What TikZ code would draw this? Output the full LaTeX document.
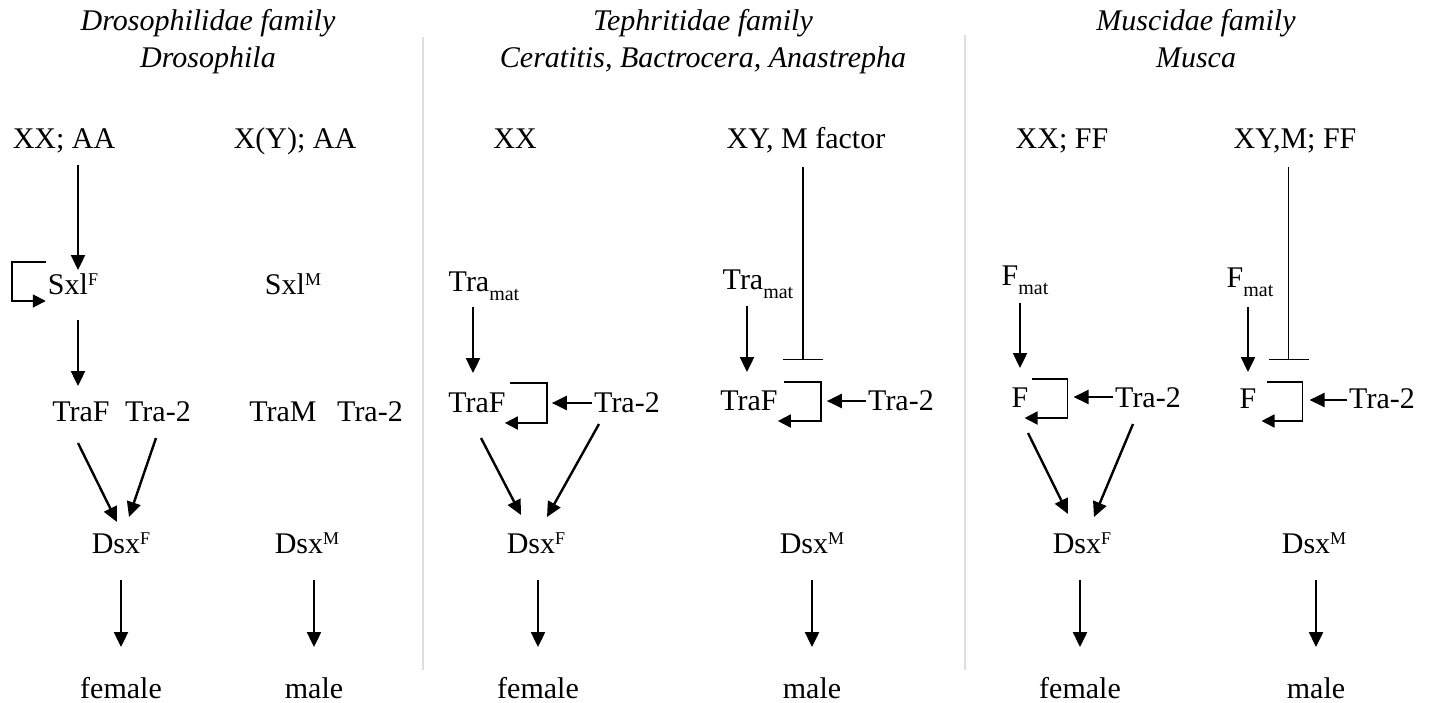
\documentclass[tikz,border=0pt]{standalone}
\usepackage{fontspec}
\setmainfont{Liberation Serif}
\usetikzlibrary{arrows.meta}

\newcommand\sps[1]{\raisebox{8.5pt}{\fontsize{18}{18}\selectfont #1}}
\newcommand\sbs[1]{\raisebox{-9pt}{\fontsize{20}{20}\selectfont #1}}

\tikzset{
  txt/.style={inner sep=0pt, anchor=base, font=\fontsize{30}{36}\selectfont},
  ttl/.style={txt, font=\fontsize{30}{36}\selectfont\itshape},
  arr/.style={-{Triangle[length=15pt,width=14pt]}, line width=2.4pt},
  loopy/.style={-{Triangle[length=13pt,width=13pt]}, line width=1.8pt},
  inh/.style={-{Bar[width=40pt]}, line width=1.5pt},
  sepline/.style={draw=black!13, line width=1.5pt}
}

\begin{document}
\begin{tikzpicture}[x=1pt,y=-1pt]
  \useasboundingbox (0,0) rectangle (1430,702);

  % family headers
  \node[ttl] (h1a) at (208,30) {Drosophilidae family};
  \node[ttl] (h1b) at (208,67) {Drosophila};
  \node[ttl] (h2a) at (703,30) {Tephritidae family};
  \node[ttl] (h2b) at (703,67) {Ceratitis, Bactrocera, Anastrepha};
  \node[ttl] (h3a) at (1196,30) {Muscidae family};
  \node[ttl] (h3b) at (1196,67) {Musca};
  \draw[sepline] (423,37) -- (423,670);
  \draw[sepline] (965,35) -- (965,670);

  % Drosophila, female
  \node[txt] (g1) at (64,148) {XX; AA};
  \node[txt] (s1) at (73,294) {Sxl\sps{F}};
  \node[txt] (t1) at (81,421) {TraF};
  \node[txt] (r1) at (158,421) {Tra-2};
  \node[txt] (d1) at (121,553) {Dsx\sps{F}};
  \node[txt] (f1) at (121,698) {female};
  \coordinate (ax1) at (78,0);
  \draw[arr] ([yshift=-17pt]g1.base -| ax1) -- ([yshift=24pt]s1.base -| ax1);
  \draw[loopy] ([xshift=-2pt,yshift=32pt]s1.base west) -- ++(-34pt,0pt) -- ++(0pt,-39pt)
    -- ([xshift=-2pt,yshift=-7pt]s1.base west);
  \draw[arr] ([yshift=-26pt]s1.base -| ax1) -- ([yshift=35pt]t1.base -| ax1);
  \draw[arr] ([xshift=-3pt,yshift=-22pt]t1.base) -- ([xshift=-4pt,yshift=31pt]d1.base);
  \draw[arr] ([xshift=-2pt,yshift=-17pt]r1.base) -- ([xshift=8pt,yshift=36pt]d1.base);
  \draw[arr] ([yshift=-27pt]d1.base -| f1.base) -- ([yshift=51pt]f1.base);

  % Drosophila, male
  \node[txt] (g2) at (295,148) {X(Y); AA};
  \node[txt] (s2) at (293,294) {Sxl\sps{M}};
  \node[txt] (t2) at (283,421) {TraM};
  \node[txt] (r2) at (370,421) {Tra-2};
  \node[txt] (d2) at (307,553) {Dsx\sps{M}};
  \node[txt] (f2) at (314,698) {male};
  \draw[arr] ([yshift=-27pt]d2.base -| f2.base) -- ([yshift=51pt]f2.base);

  % Tephritidae, female
  \node[txt] (g3) at (515,148) {XX};
  \node[txt] (m3) at (484,291) {Tra\sbs{mat}};
  \node[txt] (t3) at (477,412) {TraF};
  \node[txt] (r3) at (627,412) {Tra-2};
  \node[txt] (d3) at (536,553) {Dsx\sps{F}};
  \node[txt] (f3) at (538,698) {female};
  \coordinate (ax3) at (473,0);
  \coordinate (k3) at ([xshift=41pt,yshift=9pt]t3.base east);
  \draw[arr] ([yshift=-16pt]m3.base -| ax3) -- ([yshift=39pt]t3.base -| ax3);
  \draw[loopy] ([xshift=4pt,yshift=29pt]t3.base east) -| ([xshift=41pt,yshift=-11pt]t3.base east)
    -- ([xshift=-1pt,yshift=-11pt]t3.base east);
  \draw[arr] ([xshift=-2pt,yshift=9pt]r3.base west) -- ([xshift=5pt]k3);
  \draw[arr] ([xshift=4pt,yshift=-26pt]t3.base) -- ([xshift=-15pt,yshift=38pt]d3.base);
  \draw[arr] ([xshift=-28pt,yshift=-12pt]r3.base) -- ([xshift=11pt,yshift=36pt]d3.base);
  \draw[arr] ([yshift=-27pt]d3.base -| f3.base) -- ([yshift=51pt]f3.base);

  % Tephritidae, male
  \node[txt] (g4) at (806,148) {XY, M factor};
  \node[txt] (m4) at (758,289) {Tra\sbs{mat}};
  \node[txt] (t4) at (749,410) {TraF};
  \node[txt] (r4) at (901,410) {Tra-2};
  \node[txt] (d4) at (812,553) {Dsx\sps{M}};
  \node[txt] (f4) at (812,698) {male};
  \coordinate (ax4) at (747,0);
  \coordinate (k4) at ([xshift=43pt,yshift=9pt]t4.base east);
  \coordinate (i4) at ([xshift=25pt,yshift=50pt]t4.base east);
  \draw[inh] ([yshift=-19pt]g4.base -| i4) -- (i4);
  \draw[arr] ([yshift=-17pt]m4.base -| ax4) -- ([yshift=38pt]t4.base -| ax4);
  \draw[loopy] ([xshift=6pt,yshift=28pt]t4.base east) -| ([xshift=43pt,yshift=-11pt]t4.base east)
    -- ([yshift=-11pt]t4.base east);
  \draw[arr] ([xshift=-2pt,yshift=9pt]r4.base west) -- ([xshift=6pt]k4);
  \draw[arr] ([yshift=-27pt]d4.base -| f4.base) -- ([yshift=51pt]f4.base);

  % Musca, female
  \node[txt] (g5) at (1062,148) {XX; FF};
  \node[txt] (m5) at (1025,285) {F\sbs{mat}};
  \node[txt] (t5) at (1020,407) {F};
  \node[txt] (r5) at (1148,407) {Tra-2};
  \node[txt] (d5) at (1082,553) {Dsx\sps{F}};
  \node[txt] (f5) at (1080,698) {female};
  \coordinate (ax5) at (1020,0);
  \coordinate (k5) at ([xshift=39pt,yshift=10pt]t5.base east);
  \draw[arr] ([yshift=-18pt]m5.base -| ax5) -- ([yshift=39pt]t5.base -| ax5);
  \draw[loopy] ([xshift=3pt,yshift=28pt]t5.base east) -| ([xshift=39pt,yshift=-11pt]t5.base east)
    -- ([xshift=-4pt,yshift=-11pt]t5.base east);
  \draw[arr] ([xshift=-2pt,yshift=10pt]r5.base west) -- ([xshift=6pt]k5);
  \draw[arr] ([xshift=8pt,yshift=-26pt]t5.base) -- ([xshift=-14pt,yshift=39pt]d5.base);
  \draw[arr] ([xshift=-15pt,yshift=-17pt]r5.base) -- ([xshift=12pt,yshift=36pt]d5.base);
  \draw[arr] ([yshift=-27pt]d5.base -| f5.base) -- ([yshift=51pt]f5.base);

  % Musca, male
  \node[txt] (g6) at (1295,148) {XY,M; FF};
  \node[txt] (m6) at (1250,287) {F\sbs{mat}};
  \node[txt] (t6) at (1248,408) {F};
  \node[txt] (r6) at (1382,408) {Tra-2};
  \node[txt] (d6) at (1314,553) {Dsx\sps{M}};
  \node[txt] (f6) at (1316,698) {male};
  \coordinate (ax6) at (1248,0);
  \coordinate (k6) at ([xshift=46pt,yshift=8pt]t6.base east);
  \coordinate (i6) at ([xshift=32pt,yshift=48pt]t6.base east);
  \draw[inh] ([yshift=-19pt]g6.base -| i6) -- (i6);
  \draw[arr] ([yshift=-20pt]m6.base -| ax6) -- ([yshift=36pt]t6.base -| ax6);
  \draw[loopy] ([xshift=10pt,yshift=26pt]t6.base east) -| ([xshift=46pt,yshift=-13pt]t6.base east)
    -- ([xshift=5pt,yshift=-13pt]t6.base east);
  \draw[arr] ([xshift=-2pt,yshift=8pt]r6.base west) -- ([xshift=7pt]k6);
  \draw[arr] ([yshift=-27pt]d6.base -| f6.base) -- ([yshift=51pt]f6.base);
\end{tikzpicture}
\end{document}
